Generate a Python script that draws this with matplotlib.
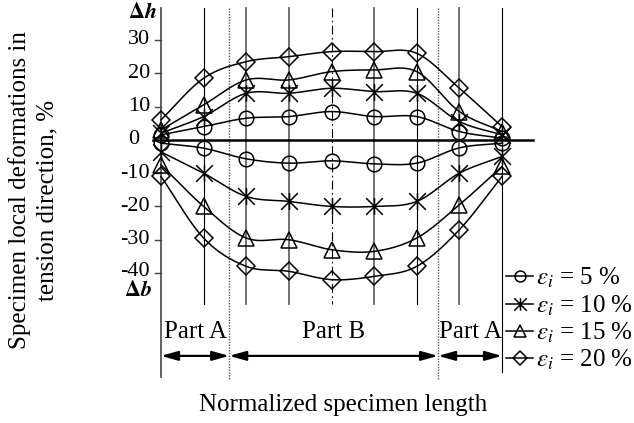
import numpy as np
import matplotlib
matplotlib.use('Agg')
import matplotlib.pyplot as plt
from matplotlib.path import Path
from matplotlib.lines import Line2D
from matplotlib.patches import FancyArrowPatch

plt.rcParams['font.family'] = ['Liberation Serif', 'DejaVu Serif']
plt.rcParams['mathtext.fontset'] = 'stix'

# ---------------- data ----------------
positions = list(range(9))                       # measurement sections along specimen
strain_labels = ['5', '10', '15', '20']          # eps_i, %
upper_5 = [1.5, 4.0, 6.5, 7.0, 8.5, 7.0, 7.0, 2.5, 0.5]
upper_10 = [2.0, 7.0, 14.0, 14.0, 15.5, 14.5, 14.0, 5.5, 1.5]
upper_15 = [3.0, 10.5, 18.0, 18.0, 20.5, 21.0, 20.5, 8.5, 2.5]
upper_20 = [6.0, 18.5, 23.5, 25.0, 26.5, 26.5, 26.0, 15.5, 4.0]
lower_5 = [-1.0, -2.5, -5.7, -7.0, -6.3, -7.2, -7.0, -2.4, -1.0]
lower_10 = [-3.6, -10.0, -17.0, -18.5, -20.0, -20.0, -18.5, -10.0, -5.0]
lower_15 = [-7.5, -20.0, -29.5, -30.0, -33.0, -33.5, -29.5, -19.5, -8.0]
lower_20 = [-11.0, -29.5, -38.0, -39.5, -42.0, -41.0, -38.0, -27.0, -11.0]
ytick_values = [30, 20, 10, 0, -10, -20, -30, -40]
part_bounds = [0, 1.6, 6.5, 8]
part_names = ['Part A', 'Part B', 'Part A']

# --------------- figure ---------------
W, H = 634, 423
fig = plt.figure(figsize=(W / 100, H / 100), dpi=100)
ax = fig.add_axes([161 / W, (H - 273) / H, (502 - 161) / W, (273 - 40) / H])
ax.set_xlim(0, 8)
ax.set_ylim(-40, 30)
ax.axis('off')

FS = 18
TFS = 16


def catmull(xs, ys, n=24):
    xs = np.asarray(xs, float)
    ys = np.asarray(ys, float)
    px = np.concatenate([[2 * xs[0] - xs[1]], xs, [2 * xs[-1] - xs[-2]]])
    py = np.concatenate([[2 * ys[0] - ys[1]], ys, [2 * ys[-1] - ys[-2]]])
    ox, oy = [], []
    for k in range(1, len(px) - 2):
        t = np.linspace(0, 1, n, endpoint=False)
        for p, out in ((px, ox), (py, oy)):
            p0, p1, p2, p3 = p[k - 1], p[k], p[k + 1], p[k + 2]
            out.extend(0.5 * ((2 * p1) + (-p0 + p2) * t +
                              (2 * p0 - 5 * p1 + 4 * p2 - p3) * t ** 2 +
                              (-p0 + 3 * p1 - 3 * p2 + p3) * t ** 3))
    ox.append(xs[-1])
    oy.append(ys[-1])
    return np.array(ox), np.array(oy)


# vertical section lines
top_v = 39.66
for i in positions:
    if i == 0:
        ax.plot([i, i], [top_v, -71.2], color='#555555', lw=1.3, clip_on=False, zorder=1)
    elif i == 8:
        ax.plot([i, i], [top_v, -69.7], color='black', lw=0.8, clip_on=False, zorder=1)
    elif i == 4:
        ax.plot([i, i], [top_v, -49.3], color='black', lw=0.8, ls=(0, (8, 3, 1.5, 3)),
                clip_on=False, zorder=1)
    elif i in (1, 6):
        ax.plot([i, i], [top_v, -49.3], color='black', lw=0.8, clip_on=False, zorder=1)
    else:
        ax.plot([i, i], [top_v, -49.3], color='#666666', lw=1.3, clip_on=False, zorder=1)
for b in part_bounds[1:3]:
    ax.plot([b, b], [top_v, -72.1], color='#555555', lw=1.0, ls=(0, (1, 1)),
            clip_on=False, zorder=1)

# zero line
ax.plot([-0.19, 8.73], [0, 0], color='black', lw=1.8, clip_on=False, zorder=2)

# y ticks and labels
for v in ytick_values:
    if v != 0:
        ax.plot([-0.14, 0], [v, v], color='#444444', lw=1.0, clip_on=False)
        ty = v + 0.6 if v == -40 else v
        ax.text(-0.26, ty, str(v), ha='right', va='center', fontsize=TFS)
    else:
        ax.text(-0.775, v, '0', ha='left', va='center', fontsize=TFS)

# axis end labels
fig.text(128 / W, 1 - 13 / H, r'$\mathbf{\Delta}\mathbfit{h}$', fontsize=TFS,
         ha='left', va='center')
fig.text(124 / W, 1 - 291 / H, r'$\mathbf{\Delta}\mathbfit{b}$', fontsize=TFS,
         ha='left', va='center')

# markers
star = Path([(0, -1), (0, 1), (-1, -1), (1, 1), (-1, 1), (1, -1)],
            [Path.MOVETO, Path.LINETO] * 3)
marker_defs = [('o', 10.5), (star, 12), ('^', 12), ('D', 9.5)]
series = [(upper_5, lower_5), (upper_10, lower_10), (upper_15, lower_15), (upper_20, lower_20)]

handles = []
for (up, lo), (mk, ms), lab in zip(series, marker_defs, strain_labels):
    for ys in (up, lo):
        sx, sy = catmull(positions, ys)
        ax.plot(sx, sy, color='black', lw=1.1, clip_on=False, zorder=3)
        ax.plot(positions, ys, ls='none', marker=mk, ms=ms, mfc='none', mec='black',
                mew=1.1, clip_on=False, zorder=4)
    handles.append(Line2D([], [], color='black', lw=1.1, marker=mk, ms=ms * 0.75,
                          mfc='none', mec='black', mew=1.1,
                          label=r'$\varepsilon_i$ = ' + lab + ' %'))

# parts
y_arrow = -64.9
for a, b, name in zip(part_bounds[:-1], part_bounds[1:], part_names):
    ax.add_patch(FancyArrowPatch((a, y_arrow), (b, y_arrow),
                                 arrowstyle='<|-|>,head_length=1.0,head_width=0.28',
                                 mutation_scale=10, color='black', lw=1.6,
                                 shrinkA=0, shrinkB=0, clip_on=False))
    ax.text((a + b) / 2, -57.7, name, ha='center', va='center', fontsize=FS)

# axis titles
fig.text(20 / W, 1 - 190 / H, 'Specimen local deformations in', rotation=90,
         ha='center', va='center', fontsize=FS)
fig.text(47 / W, 1 - 200 / H, 'tension direction, %', rotation=90,
         ha='center', va='center', fontsize=FS)
fig.text(343 / W, 1 - 405 / H, 'Normalized specimen length', ha='center', va='center',
         fontsize=FS)

fig.legend(handles=handles, loc='upper left', bbox_to_anchor=(506 / W, 1 - 266 / H),
           frameon=False, borderpad=0, borderaxespad=0, handlelength=1.08,
           handletextpad=0.12, labelspacing=0.12, fontsize=FS)

fig.savefig('out.png', dpi=100)
